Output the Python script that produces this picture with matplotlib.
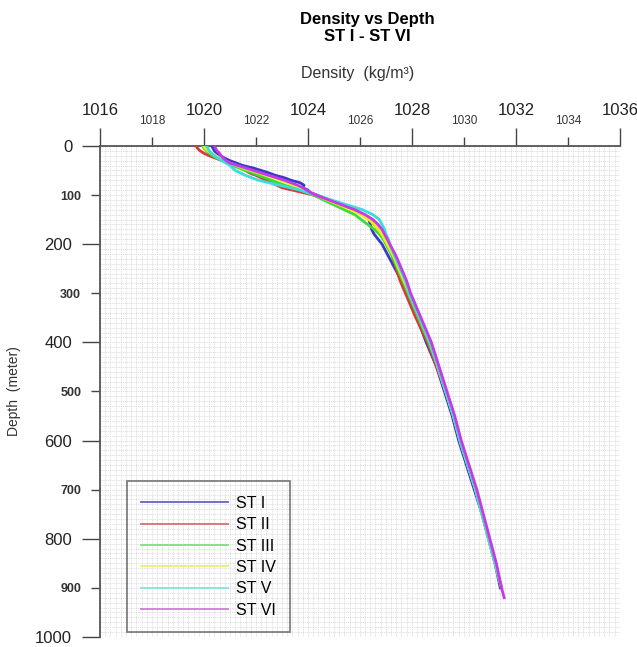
import numpy as np
import matplotlib
matplotlib.use('Agg')
import matplotlib.pyplot as plt
from matplotlib.lines import Line2D

plt.rcParams['font.family'] = ['Liberation Sans', 'DejaVu Sans']

# depth (m) sampling for the profiles
depth = [0, 5, 10, 15, 20, 25, 30, 35, 40, 45, 50, 55, 60, 65, 70, 75, 80, 85, 90, 95,
         100, 110, 120, 130, 140, 150, 160, 170, 180, 190, 200, 225, 250, 275, 300,
         350, 400, 450, 500, 550, 600, 650, 700, 750, 800, 850, 900, 920]

# density (kg/m3) for each station
st1 = [1020.3, 1020.35, 1020.4, 1020.5, 1020.65, 1020.8, 1021.0, 1021.25, 1021.5, 1021.9,
       1022.2, 1022.5, 1022.75, 1023.1, 1023.35, 1023.7, 1023.85, 1023.8, 1024.0, 1024.1,
       1024.35, 1024.8, 1025.3, 1025.8, 1026.15, 1026.35, 1026.4, 1026.45, 1026.55, 1026.7,
       1026.85, 1027.1, 1027.35, 1027.6, 1027.8, 1028.2, 1028.55, 1028.95, 1029.25, 1029.55,
       1029.8, 1030.1, 1030.4, 1030.7, 1030.95, 1031.2, 1031.4]
st2 = [1019.7, 1019.75, 1019.85, 1020.0, 1020.2, 1020.45, 1020.7, 1020.95, 1021.2, 1021.45,
       1021.6, 1021.75, 1022.0, 1022.2, 1022.4, 1022.6, 1022.8, 1023.0, 1023.4, 1023.8,
       1024.2, 1024.7, 1025.2, 1025.7, 1026.1, 1026.4, 1026.55, 1026.7, 1026.8, 1026.95,
       1027.05, 1027.25, 1027.4, 1027.55, 1027.75, 1028.15, 1028.6, 1028.95, 1029.3, 1029.6,
       1029.85, 1030.15, 1030.45, 1030.7, 1030.95, 1031.2, 1031.45]
st3 = [1019.95, 1020.0, 1020.1, 1020.2, 1020.35, 1020.5, 1020.7, 1020.9, 1021.1, 1021.35,
       1021.6, 1021.85, 1022.1, 1022.35, 1022.6, 1022.85, 1023.1, 1023.4, 1023.7, 1023.95,
       1024.2, 1024.6, 1025.0, 1025.4, 1025.8, 1026.05, 1026.3, 1026.55, 1026.75, 1026.9,
       1027.0, 1027.25, 1027.45, 1027.65, 1027.85, 1028.25, 1028.65, 1029.0, 1029.3, 1029.6,
       1029.85, 1030.15, 1030.45, 1030.7, 1030.95, 1031.2, 1031.45]
st4 = [1020.0, 1020.05, 1020.15, 1020.3, 1020.45, 1020.6, 1020.8, 1021.0, 1021.25, 1021.5,
       1021.8, 1022.1, 1022.4, 1022.7, 1022.95, 1023.2, 1023.45, 1023.7, 1023.9, 1024.1,
       1024.3, 1024.75, 1025.2, 1025.65, 1026.05, 1026.35, 1026.55, 1026.7, 1026.85, 1026.95,
       1027.05, 1027.3, 1027.5, 1027.7, 1027.9, 1028.3, 1028.7, 1029.0, 1029.3, 1029.6,
       1029.85, 1030.15, 1030.45, 1030.7, 1030.95, 1031.2, 1031.45]
st5 = [1020.1, 1020.15, 1020.2, 1020.3, 1020.4, 1020.55, 1020.7, 1020.85, 1021.0, 1021.1,
       1021.2, 1021.4, 1021.6, 1021.85, 1022.1, 1022.5, 1022.9, 1023.3, 1023.7, 1024.0,
       1024.3, 1024.9, 1025.5, 1026.1, 1026.5, 1026.75, 1026.85, 1026.95, 1027.0, 1027.1,
       1027.15, 1027.35, 1027.55, 1027.75, 1027.9, 1028.3, 1028.7, 1029.0, 1029.3, 1029.6,
       1029.85, 1030.15, 1030.45, 1030.7, 1030.95, 1031.2, 1031.45]
st6 = [1020.4, 1020.45, 1020.5, 1020.6, 1020.65, 1020.75, 1020.85, 1021.0, 1021.3, 1021.6,
       1021.9, 1022.2, 1022.5, 1022.8, 1023.1, 1023.35, 1023.6, 1023.8, 1023.95, 1024.1,
       1024.3, 1024.8, 1025.3, 1025.8, 1026.2, 1026.5, 1026.7, 1026.85, 1026.95, 1027.05,
       1027.15, 1027.4, 1027.6, 1027.8, 1027.95, 1028.35, 1028.75, 1029.05, 1029.35, 1029.65,
       1029.9, 1030.2, 1030.5, 1030.75, 1031.0, 1031.25, 1031.45, 1031.55]

stations = ['ST I', 'ST II', 'ST III', 'ST IV', 'ST V', 'ST VI']
profiles = [st1, st2, st3, st4, st5, st6]
colors = ['#3a3ac8', '#dd3838', '#38dd38', '#eeee10', '#38dede', '#c838ea']
legend_colors = ['#6f6fc8', '#d87a7a', '#88e088', '#f0f07a', '#88e6e6', '#d088d8']

fig = plt.figure(figsize=(6.37, 6.47), dpi=100)
ax = fig.add_axes([0.157, 0.0155, 0.816, 0.759])

# fine dotted grid
for gx in np.arange(1016, 1036.01, 0.2):
    ax.axvline(gx, color='#d2d2d2', lw=0.5, ls=(0, (1.5, 1.2)), zorder=0)
for gy in np.arange(0, 1000.1, 10):
    ax.axhline(gy, color='#d2d2d2', lw=0.5, ls=(0, (1.5, 1.2)), zorder=0)

for name, dens, c in zip(stations, profiles, colors):
    ax.plot(dens, depth[:len(dens)], color=c, lw=2.0, label=name, zorder=3)

ax.set_xlim(1016, 1036)
ax.set_ylim(1000, 0)

ax.xaxis.tick_top()
ax.set_xticks([1016, 1020, 1024, 1028, 1032, 1036])
ax.set_xticks([1018, 1022, 1026, 1030, 1034], minor=True)
ax.set_xticklabels(['1016', '1020', '1024', '1028', '1032', '1036'], fontsize=12)
ax.set_xticklabels(['1018', '1022', '1026', '1030', '1034'], minor=True, fontsize=8.5)
ax.set_yticks([0, 200, 400, 600, 800, 1000])
ax.set_yticks([100, 300, 500, 700, 900], minor=True)
ax.set_yticklabels(['0', '200', '400', '600', '800', '1000'], fontsize=12)
ax.set_yticklabels(['100', '300', '500', '700', '900'], minor=True, fontsize=9, fontweight='bold')
ax.tick_params(which='major', length=13, width=1, color='#444444', pad=7, labelcolor='#222222')
ax.tick_params(which='minor', length=6.5, width=1, color='#444444', pad=7, labelcolor='#333333')

for s in ['right', 'bottom']:
    ax.spines[s].set_visible(False)
for s in ['left', 'top']:
    ax.spines[s].set_color('#555555')
    ax.spines[s].set_linewidth(1.3)

handles = [Line2D([], [], color=c, lw=1.4) for c in legend_colors]
leg = ax.legend(handles, stations, loc='lower left', bbox_to_anchor=(0.052, 0.01),
                borderaxespad=0, fontsize=11.5, handlelength=5.4, labelspacing=0.4,
                frameon=True, fancybox=False, borderpad=0.9, handletextpad=0.5)
leg.get_frame().set_facecolor('none')
leg.get_frame().set_edgecolor('#555555')
leg.get_frame().set_linewidth(1.2)

ax.set_ylabel('Depth  (meter)', fontsize=10, labelpad=10, color='#333333')
fig.text(0.562, 0.887, 'Density  (kg/m\u00b3)', ha='center', va='center', fontsize=11.5, color='#333333')
fig.text(0.576, 0.957, 'Density vs Depth\nST I - ST VI', ha='center', va='center',
         fontsize=12, fontweight='bold', linespacing=1.15)

fig.savefig('out.png', dpi=100)
